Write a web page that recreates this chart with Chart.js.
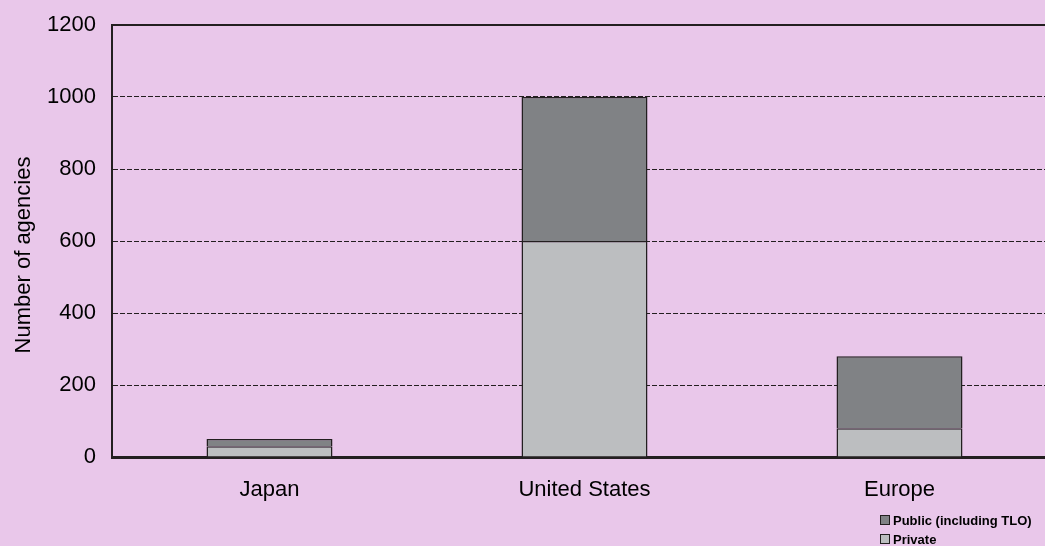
<!DOCTYPE html>
<html>
<head>
<meta charset="utf-8">
<script src="https://cdn.jsdelivr.net/npm/chart.js@4"></script>
<style>
  html, body { margin: 0; padding: 0; overflow: hidden; background: #E9C7EA; }
  #wrap { width: 1057px; height: 546px; }
</style>
</head>
<body>
<div id="wrap"><canvas id="grafico" width="1057" height="546"></canvas></div>
<script>
// datos
const regiones = ['Japan', 'United States', 'Europe'];
const privadas = [30, 600, 80];
const publicas = [20, 400, 200];
const ticksY = [0, 200, 400, 600, 800, 1000, 1200];
const tituloY = 'Number of agencies';

const FUENTE = '"Liberation Sans", Arial, sans-serif';
const LINEA = '#231F20';

// marco superior, título del eje Y (algo más abajo que el centro) y leyenda vertical
const marcoYLeyenda = {
    id: 'marcoYLeyenda',
    afterDraw(chart) {
        const ctx = chart.ctx;
        const area = chart.chartArea;
        ctx.save();
        ctx.strokeStyle = LINEA;
        ctx.lineWidth = 2;
        ctx.beginPath();
        ctx.moveTo(area.left - 1, area.top);
        ctx.lineTo(area.right, area.top);
        ctx.stroke();

        // título eje Y
        ctx.save();
        ctx.translate(24, 255);
        ctx.rotate(-Math.PI / 2);
        ctx.font = '22px ' + FUENTE;
        ctx.fillStyle = '#000';
        ctx.textAlign = 'center';
        ctx.textBaseline = 'middle';
        ctx.fillText(tituloY, 0, 0);
        ctx.restore();

        const items = chart.data.datasets.slice().reverse();
        ctx.font = 'bold 13px ' + FUENTE;
        ctx.textBaseline = 'middle';
        items.forEach((ds, i) => {
            const y = 521 + i * 19;
            ctx.fillStyle = ds.backgroundColor;
            ctx.fillRect(880.5, y - 5.5, 9, 9);
            ctx.lineWidth = 1;
            ctx.strokeStyle = LINEA;
            ctx.strokeRect(880.5, y - 5.5, 9, 9);
            ctx.fillStyle = '#000';
            ctx.fillText(ds.label, 893, y);
        });
        ctx.restore();
    }
};

const ctx = document.getElementById('grafico').getContext('2d');
new Chart(ctx, {
    type: 'bar',
    data: {
        labels: regiones,
        datasets: [
            {
                label: 'Private',
                data: privadas,
                backgroundColor: '#BCBEC0',
                borderColor: LINEA,
                borderWidth: 1.5
            },
            {
                label: 'Public (including TLO)',
                data: publicas,
                backgroundColor: '#808285',
                borderColor: LINEA,
                borderWidth: 1.5
            }
        ]
    },
    options: {
        responsive: false,
        animation: false,
        layout: { padding: { top: 25, left: 0, right: 0, bottom: 0 } },
        datasets: { bar: { categoryPercentage: 1, barPercentage: 0.4 } },
        plugins: {
            legend: { display: false },
            tooltip: { enabled: false }
        },
        scales: {
            x: {
                stacked: true,
                grid: { display: false },
                border: { display: true, color: LINEA, width: 3 },
                ticks: { color: '#000', font: { family: FUENTE, size: 22 }, padding: 12 },
                afterFit: (s) => { s.height = 89; }
            },
            y: {
                stacked: true,
                min: 0,
                max: 1200,
                afterBuildTicks: (s) => { s.ticks = ticksY.map(v => ({ value: v })); },
                grid: {
                    drawTicks: false,
                    color: (c) => (c.tick && (c.tick.value === 0 || c.tick.value === 1200)) ? 'transparent' : LINEA,
                    lineWidth: 1
                },
                border: { display: true, color: LINEA, width: 2, dash: [5, 2] },
                ticks: {
                    color: '#000',
                    font: { family: FUENTE, size: 22 },
                    padding: 16,
                    callback: (v) => String(v)
                },
                afterFit: (s) => {
                    s.width = 112;
                    s.paddingTop = 0;
                    s.paddingBottom = 0;
                }
            }
        }
    },
    plugins: [marcoYLeyenda]
});
</script>
</body>
</html>
